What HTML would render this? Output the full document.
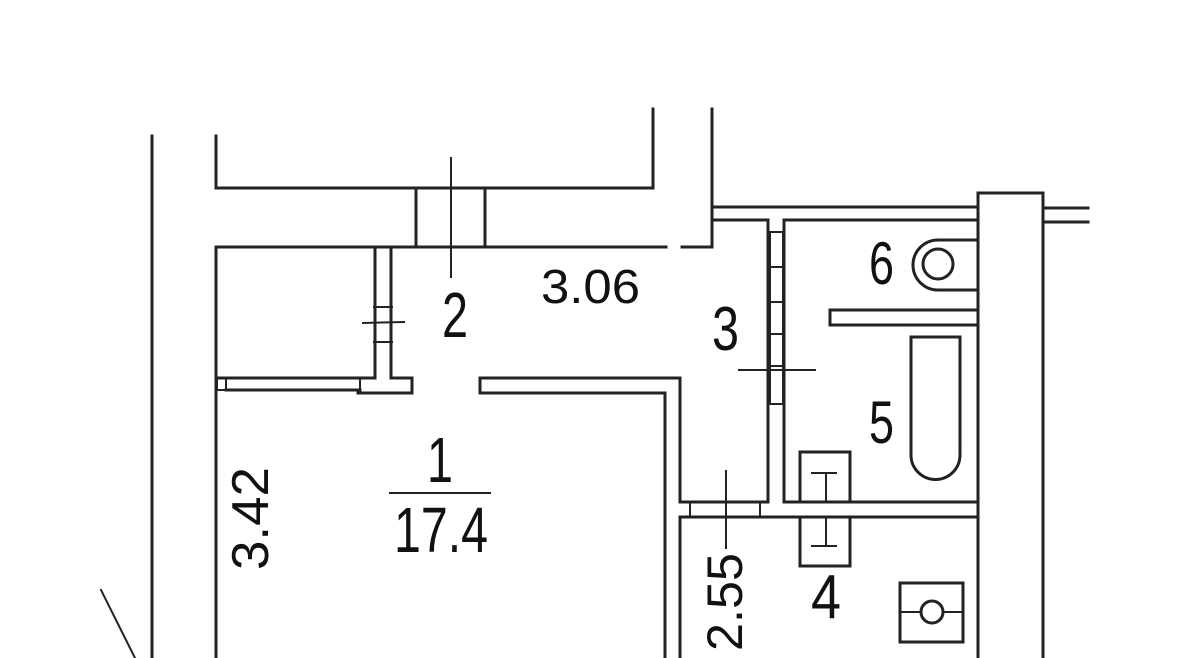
<!DOCTYPE html>
<html><head><meta charset="utf-8"><style>
html,body{margin:0;padding:0;background:#fff;width:1200px;height:658px;overflow:hidden}
svg text{font-family:"Liberation Sans",sans-serif;fill:#111}
</style></head><body>
<svg width="1200" height="658" viewBox="0 0 1200 658" xmlns="http://www.w3.org/2000/svg">
<g fill="none" stroke="#222" stroke-width="3" stroke-linecap="square">
<!-- outer left -->
<line x1="152" y1="136" x2="152" y2="658"/>
<line x1="101" y1="590" x2="135" y2="658" stroke-width="2"/>
<!-- top U -->
<polyline points="216,136 216,188 653,188 653,109"/>
<line x1="712" y1="109" x2="712" y2="247"/>
<rect x="416" y="188" width="69" height="59"/>
<line x1="451" y1="158" x2="451" y2="277" stroke-width="2"/>
<!-- y=247 wall -->
<line x1="216" y1="247" x2="666" y2="247"/>
<line x1="682" y1="247" x2="712" y2="247"/>
<line x1="216" y1="247" x2="216" y2="658"/>
<!-- closet wall -->
<line x1="375" y1="247" x2="375" y2="378"/>
<line x1="391" y1="247" x2="391" y2="378"/>
<line x1="374" y1="307" x2="392" y2="307" stroke-width="2"/>
<line x1="374" y1="342" x2="392" y2="342" stroke-width="2"/>
<line x1="363" y1="323" x2="404" y2="322" stroke-width="2"/>
<!-- horizontal wall y=378 -->
<polyline points="217,378 375,378"/>
<rect x="217" y="378" width="9" height="12" stroke-width="2"/>
<line x1="226" y1="390" x2="360" y2="390"/>
<line x1="360" y1="378" x2="360" y2="393" stroke-width="2"/>
<polyline points="391,378 412,378 412,393 358,393"/>
<polyline points="480,378 680,378 680,502 768,502 768,220"/>
<polyline points="480,378 480,393 665,393 665,658"/>
<line x1="784" y1="220" x2="784" y2="502"/>
<!-- door panel 3 -->
<rect x="770" y="232" width="13" height="172" stroke-width="2"/>
<line x1="770" y1="267" x2="783" y2="267" stroke-width="2"/>
<line x1="770" y1="302" x2="783" y2="302" stroke-width="2"/>
<line x1="770" y1="334" x2="783" y2="334" stroke-width="2"/>
<line x1="770" y1="366" x2="783" y2="366" stroke-width="2"/>
<line x1="739" y1="370" x2="815" y2="370" stroke-width="2"/>
<!-- top bathroom walls -->
<line x1="712" y1="207" x2="978" y2="207"/>
<line x1="712" y1="220" x2="768" y2="220"/>
<line x1="784" y1="220" x2="978" y2="220"/>
<!-- column -->
<rect x="978" y="193" width="65" height="470"/>
<line x1="1043" y1="208" x2="1088" y2="208"/>
<line x1="1043" y1="222" x2="1088" y2="222"/>
<!-- toilet 6 -->
<path d="M978,240 H938 A25,25 0 0 0 938,290 H978"/>
<circle cx="938" cy="264" r="15"/>
<!-- partition -->
<polyline points="978,310 830,310 830,325 978,325"/>
<!-- bath -->
<path d="M911,337 H960 V455 A24.5,24.5 0 0 1 911,455 Z"/>
<!-- bathroom bottom -->
<line x1="784" y1="502" x2="978" y2="502"/>
<line x1="680" y1="517" x2="978" y2="517"/>
<line x1="680" y1="517" x2="680" y2="658"/>
<rect x="690" y="502" width="70" height="15" stroke-width="2"/>
<line x1="726" y1="471" x2="726" y2="548" stroke-width="2"/>
<!-- sinks -->
<rect x="800" y="452" width="50" height="50"/>
<line x1="812" y1="473" x2="836" y2="473" stroke-width="2"/>
<line x1="826" y1="473" x2="826" y2="502" stroke-width="2"/>
<rect x="800" y="517" width="50" height="49"/>
<line x1="826" y1="517" x2="826" y2="546" stroke-width="2"/>
<line x1="812" y1="546" x2="836" y2="546" stroke-width="2"/>
<!-- washer -->
<rect x="900" y="583" width="63" height="59"/>
<line x1="900" y1="612" x2="963" y2="612" stroke-width="2"/>
<circle cx="932" cy="612" r="11" fill="#fff"/>
<!-- area line -->
<line x1="390" y1="493" x2="490" y2="493" stroke-width="2"/>
</g>
<text x="541" y="303" font-size="48" textLength="99" lengthAdjust="spacingAndGlyphs">3.06</text>
<text x="442" y="337" font-size="64" textLength="26" lengthAdjust="spacingAndGlyphs">2</text>
<text x="712" y="350" font-size="62" textLength="27" lengthAdjust="spacingAndGlyphs">3</text>
<text x="869" y="284" font-size="60" textLength="25" lengthAdjust="spacingAndGlyphs">6</text>
<text x="869" y="443" font-size="60" textLength="25" lengthAdjust="spacingAndGlyphs">5</text>
<text x="427" y="482" font-size="64" textLength="26" lengthAdjust="spacingAndGlyphs">1</text>
<text x="394" y="552" font-size="64" textLength="94" lengthAdjust="spacingAndGlyphs">17.4</text>
<text x="811" y="618" font-size="62" textLength="30" lengthAdjust="spacingAndGlyphs">4</text>
<text transform="translate(268,570) rotate(-90)" font-size="52" textLength="103" lengthAdjust="spacingAndGlyphs">3.42</text>
<text transform="translate(742,651) rotate(-90)" font-size="50" textLength="98" lengthAdjust="spacingAndGlyphs">2.55</text>
</svg>
</body></html>
